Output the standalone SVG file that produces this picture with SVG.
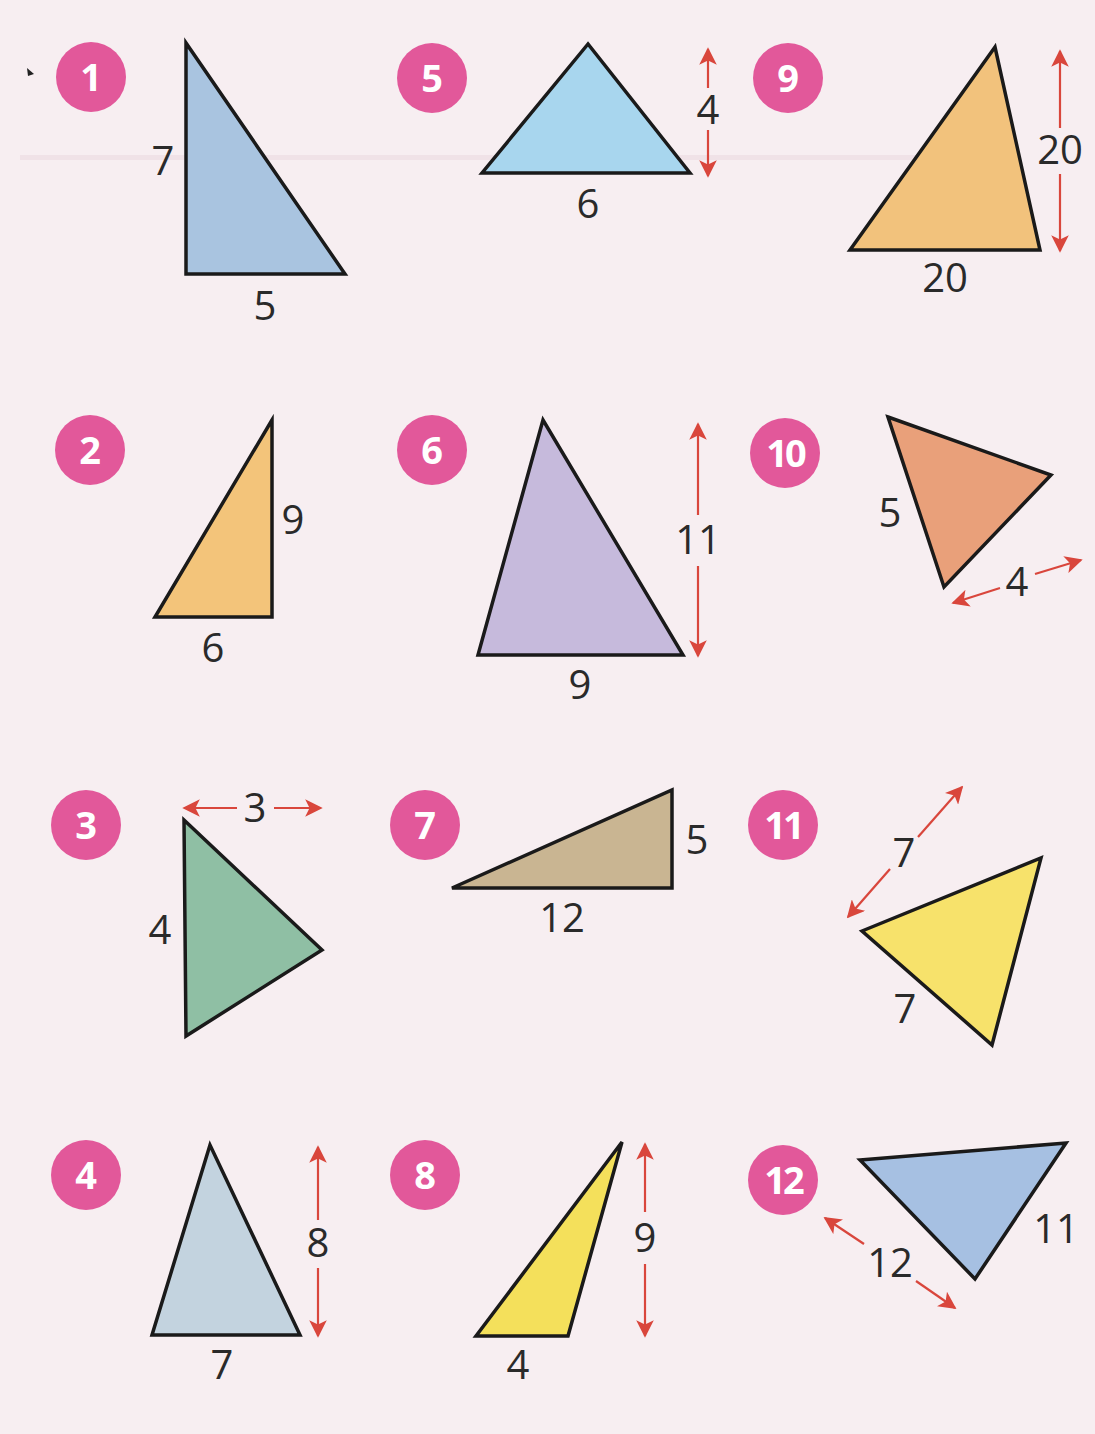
<svg xmlns="http://www.w3.org/2000/svg" width="1095" height="1434" viewBox="0 0 1095 1434">
<style>
.tri{stroke:#1a1a1a;stroke-width:3.5;stroke-linejoin:miter}
.lbl{font-family:"Open Sans","Noto Sans",sans-serif;font-size:40px;fill:#2a2a2a;text-anchor:middle}
.badge circle{fill:#e2589a}
.badge text{font-family:"Open Sans","Noto Sans",sans-serif;font-weight:700;font-size:38px;fill:#ffffff;text-anchor:middle}
.arr{stroke:#d9463c;stroke-width:2.2;fill:none;marker-end:url(#ah)}
</style>
<defs>
<marker id="ah" viewBox="0 0 10 10" refX="9" refY="5" markerWidth="8" markerHeight="8" orient="auto" markerUnits="strokeWidth">
<path d="M0,0 L10,5 L0,10 L2.5,5 Z" fill="#d9463c"/>
</marker>
</defs>
<rect x="0" y="0" width="1095" height="1434" fill="#f7eef1"/>
<rect x="20" y="155" width="940" height="5" fill="#f0e2e7"/>
<path d="M27,68 L34,74 L28,76 Z" fill="#222"/>

<g id="node1">
<g class="badge"><circle cx="91" cy="77" r="35"/><text x="91" y="91">1</text></g>
<polygon class="tri" points="186,43 186,274 345,274" fill="#a9c4e0"/>
<text class="lbl" x="163" y="175">7</text>
<text class="lbl" x="265" y="320">5</text>
</g>

<g id="node5">
<g class="badge"><circle cx="432" cy="78" r="35"/><text x="432" y="92">5</text></g>
<polygon class="tri" points="588,44 482,173 690,173" fill="#a8d6ee"/>
<text class="lbl" x="588" y="218">6</text>
<text class="lbl" x="708" y="124">4</text>
</g>

<g id="node9">
<g class="badge"><circle cx="788" cy="78" r="35"/><text x="788" y="92">9</text></g>
<polygon class="tri" points="995,47 850,250 1040,250" fill="#f2c27c"/>
<text class="lbl" x="1060" y="164">20</text>
<text class="lbl" x="945" y="292">20</text>
</g>

<g id="node2">
<g class="badge"><circle cx="90" cy="450" r="35"/><text x="90" y="464">2</text></g>
<polygon class="tri" points="272,420 155,617 272,617" fill="#f3c47a"/>
<text class="lbl" x="293" y="534">9</text>
<text class="lbl" x="213" y="662">6</text>
</g>

<g id="node6">
<g class="badge"><circle cx="432" cy="450" r="35"/><text x="432" y="464">6</text></g>
<polygon class="tri" points="543,420 478,655 683,655" fill="#c6badc"/>
<text class="lbl" x="698" y="554">11</text>
<text class="lbl" x="580" y="699">9</text>
</g>

<g id="node10">
<g class="badge"><circle cx="785" cy="453" r="35"/><text x="785" y="467" letter-spacing="-3">10</text></g>
<polygon class="tri" points="888,417 1051,475 944,587" fill="#e9a07a"/>
<text class="lbl" x="890" y="527">5</text>
<text class="lbl" x="1017" y="596">4</text>
</g>

<g id="node3">
<g class="badge"><circle cx="86" cy="825" r="35"/><text x="86" y="839">3</text></g>
<polygon class="tri" points="184,820 322,950 186,1036" fill="#8fbfa4"/>
<text class="lbl" x="160" y="944">4</text>
<text class="lbl" x="255" y="822">3</text>
</g>

<g id="node7">
<g class="badge"><circle cx="425" cy="825" r="35"/><text x="425" y="839">7</text></g>
<polygon class="tri" points="452,888 672,790 672,888" fill="#c9b592"/>
<text class="lbl" x="697" y="854">5</text>
<text class="lbl" x="562" y="932">12</text>
</g>

<g id="node11">
<g class="badge"><circle cx="783" cy="825" r="35"/><text x="783" y="839" letter-spacing="-3">11</text></g>
<polygon class="tri" points="862,931 1041,858 992,1045" fill="#f7e26b"/>
<text class="lbl" x="904" y="867">7</text>
<text class="lbl" x="905" y="1023">7</text>
</g>

<g id="node4">
<g class="badge"><circle cx="86" cy="1175" r="35"/><text x="86" y="1189">4</text></g>
<polygon class="tri" points="210,1145 152,1335 300,1335" fill="#c3d3df"/>
<text class="lbl" x="318" y="1257">8</text>
<text class="lbl" x="222" y="1379">7</text>
</g>

<g id="node8">
<g class="badge"><circle cx="425" cy="1175" r="35"/><text x="425" y="1189">8</text></g>
<polygon class="tri" points="622,1142 476,1336 568,1336" fill="#f4e05b"/>
<text class="lbl" x="645" y="1252">9</text>
<text class="lbl" x="518" y="1379">4</text>
</g>

<g id="node12">
<g class="badge"><circle cx="783" cy="1180" r="35"/><text x="783" y="1194" letter-spacing="-3">12</text></g>
<polygon class="tri" points="860,1160 1066,1143 975,1279" fill="#a6c0e2"/>
<text class="lbl" x="1056" y="1243">11</text>
<text class="lbl" x="890" y="1277">12</text>
</g>

<g id="connectors">
<line class="arr" x1="708" y1="88" x2="708" y2="49"/>
<line class="arr" x1="708" y1="130" x2="708" y2="176"/>
<line class="arr" x1="1060" y1="128" x2="1060" y2="51"/>
<line class="arr" x1="1060" y1="174" x2="1060" y2="251"/>
<line class="arr" x1="698" y1="515" x2="698" y2="424"/>
<line class="arr" x1="698" y1="566" x2="698" y2="656"/>
<line class="arr" x1="1000" y1="588" x2="953" y2="603"/>
<line class="arr" x1="1035" y1="574" x2="1081" y2="560"/>
<line class="arr" x1="237" y1="808" x2="184" y2="808"/>
<line class="arr" x1="274" y1="808" x2="321" y2="808"/>
<line class="arr" x1="890" y1="869" x2="848" y2="917"/>
<line class="arr" x1="918" y1="837" x2="962" y2="787"/>
<line class="arr" x1="318" y1="1220" x2="318" y2="1147"/>
<line class="arr" x1="318" y1="1268" x2="318" y2="1336"/>
<line class="arr" x1="645" y1="1212" x2="645" y2="1144"/>
<line class="arr" x1="645" y1="1264" x2="645" y2="1336"/>
<line class="arr" x1="864" y1="1244" x2="825" y2="1218"/>
<line class="arr" x1="916" y1="1281" x2="955" y2="1308"/>
</g>
</svg>
